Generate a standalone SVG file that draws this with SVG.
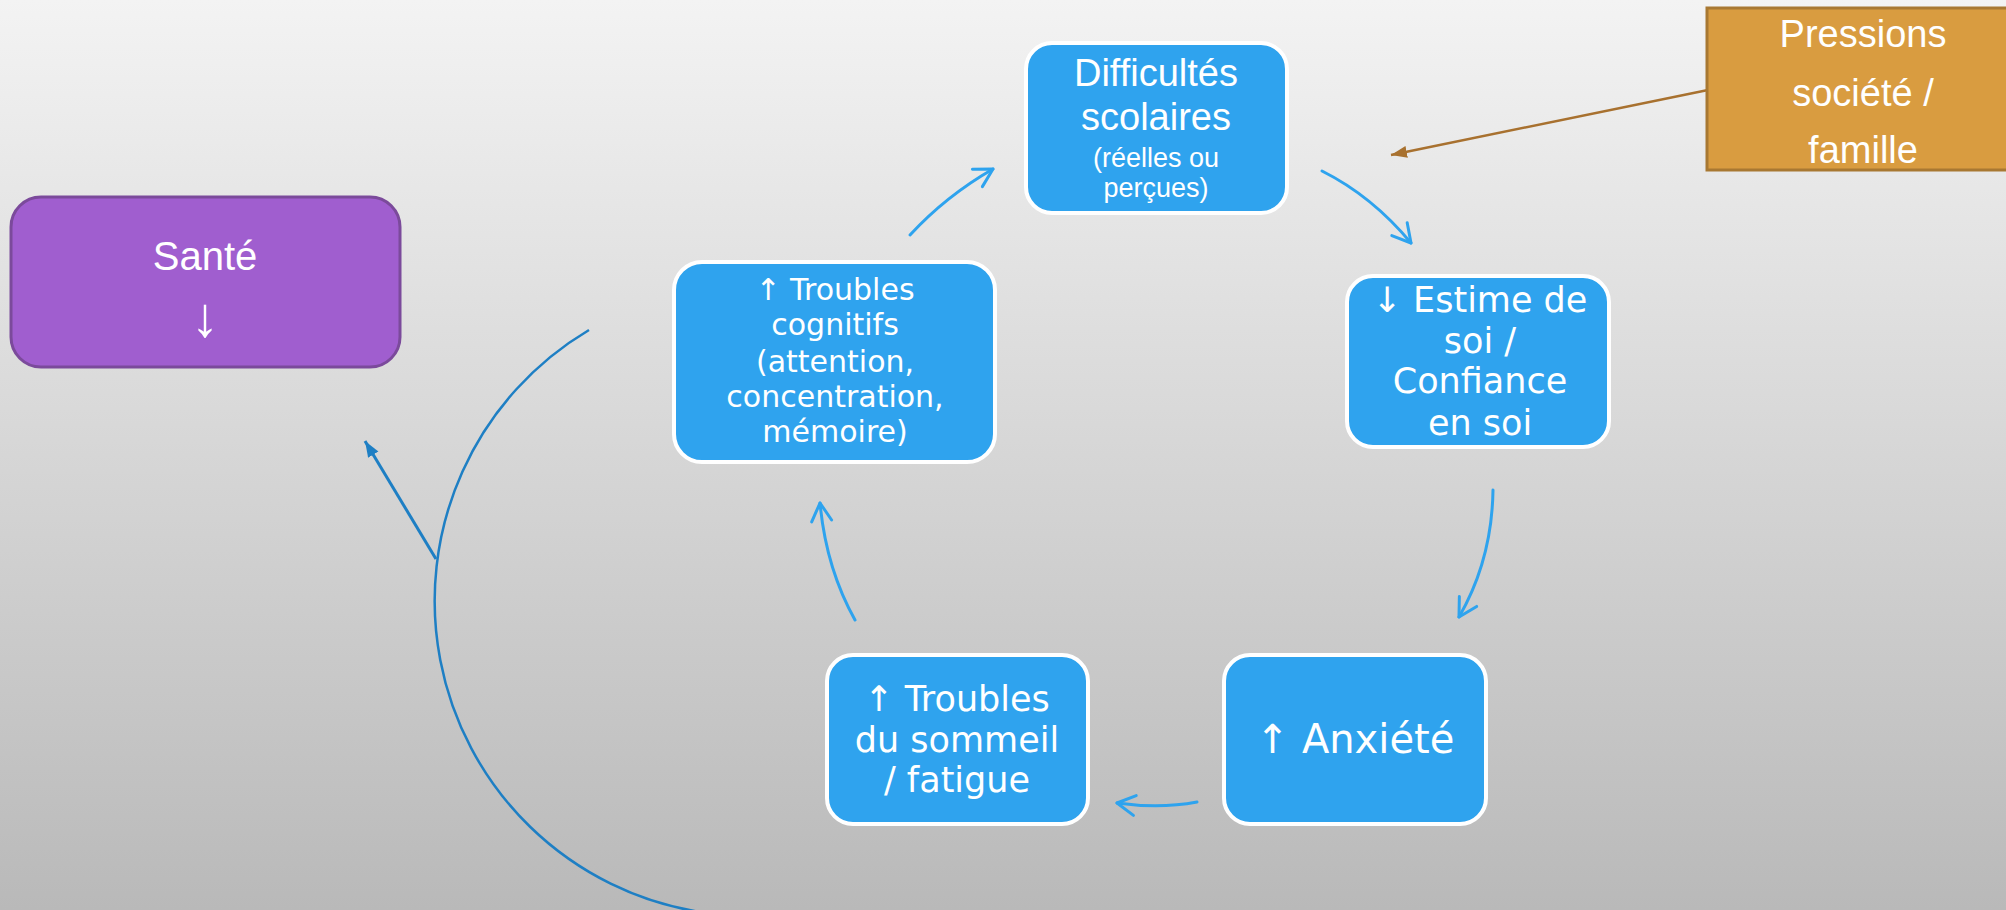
<svg xmlns="http://www.w3.org/2000/svg" width="2006" height="910" viewBox="0 0 2006 910">
<defs>
<linearGradient id="bg" x1="0" y1="0" x2="0" y2="1">
<stop offset="0" stop-color="#F3F3F3"/>
<stop offset="1" stop-color="#B9B9B9"/>
</linearGradient>
<marker id="open" markerUnits="userSpaceOnUse" markerWidth="26" markerHeight="26" viewBox="0 0 26 26" refX="21" refY="12" orient="auto">
<path d="M3,2 L21,12 L3,22" fill="none" stroke="#2EA3EE" stroke-width="3" stroke-linecap="round" stroke-linejoin="round"/>
</marker>
<marker id="brownTri" markerUnits="userSpaceOnUse" markerWidth="20" markerHeight="20" viewBox="0 0 20 20" refX="16" refY="10" orient="auto">
<path d="M0,4 L16,10 L0,16 Z" fill="#A8712F"/>
</marker>
<marker id="blueTri" markerUnits="userSpaceOnUse" markerWidth="20" markerHeight="20" viewBox="0 0 20 20" refX="16" refY="10" orient="auto">
<path d="M0,4 L16,10 L0,16 Z" fill="#1E7FC4"/>
</marker>
</defs>
<style>
.blue{fill:#2FA3EE;stroke:#FFFFFF;stroke-width:4}
.t{fill:#FFFFFF;font-family:"DejaVu Sans","Noto Sans",sans-serif;text-anchor:middle}
.g{fill:#FFFFFF;font-family:"Liberation Sans",Arial,sans-serif;text-anchor:middle}
.c{fill:none;stroke:#2EA3EE;stroke-width:3;stroke-linecap:round;marker-end:url(#open)}
</style>
<rect x="0" y="0" width="2006" height="910" fill="url(#bg)"/>

<g id="connectors">
<path class="c" d="M1322,171 Q1372,196 1411,243"/>
<path class="c" d="M1493,490 Q1492,560 1459,617"/>
<path class="c" d="M1197,802 Q1160,809 1117,803"/>
<path class="c" d="M855,620 Q826,568 820,503"/>
<path class="c" d="M910,235 Q946,196 993,169"/>
<line x1="1708" y1="90" x2="1391" y2="155" stroke="#A8712F" stroke-width="2.5" marker-end="url(#brownTri)"/>
<path d="M589,330 A315,315 0 0 0 700,912" fill="none" stroke="#1E7FC4" stroke-width="2.5"/>
<line x1="436" y1="559" x2="365" y2="441" stroke="#1E7FC4" stroke-width="3" marker-end="url(#blueTri)"/>
</g>

<g id="sante">
<rect x="11" y="197" width="389" height="170" rx="30" fill="#A05ECF" stroke="#7B4A9B" stroke-width="3"/>
<text class="g" x="205" y="270" font-size="40">Santé</text>
<text class="g" x="205" y="336" font-size="56">↓</text>
</g>

<g id="pressions">
<rect x="1707" y="8" width="310" height="162" fill="#D99C40" stroke="#A87832" stroke-width="3"/>
<text class="g" x="1863" y="47" font-size="38">Pressions</text>
<text class="g" x="1863" y="106" font-size="38">société /</text>
<text class="g" x="1863" y="163" font-size="38">famille</text>
</g>

<g id="difficultes">
<rect class="blue" x="1026" y="43" width="261" height="170" rx="26"/>
<text class="g" x="1156" y="86" font-size="38">Difficultés</text>
<text class="g" x="1156" y="130" font-size="38">scolaires</text>
<text class="g" x="1156" y="167" font-size="27">(réelles ou</text>
<text class="g" x="1156" y="197" font-size="27">perçues)</text>
</g>

<g id="estime">
<rect class="blue" x="1347" y="276" width="262" height="171" rx="26"/>
<text class="t" x="1480" y="312" font-size="35">↓ Estime de</text>
<text class="t" x="1480" y="353" font-size="35">soi /</text>
<text class="t" x="1480" y="393" font-size="35">Confiance</text>
<text class="t" x="1480" y="435" font-size="35">en soi</text>
</g>

<g id="anxiete">
<rect class="blue" x="1224" y="655" width="262" height="169" rx="26"/>
<text class="t" x="1355" y="753" font-size="40">↑ Anxiété</text>
</g>

<g id="sommeil">
<rect class="blue" x="827" y="655" width="261" height="169" rx="26"/>
<text class="t" x="957" y="711" font-size="35">↑ Troubles</text>
<text class="t" x="957" y="752" font-size="35">du sommeil</text>
<text class="t" x="957" y="792" font-size="35">/ fatigue</text>
</g>

<g id="cognitifs">
<rect class="blue" x="674" y="262" width="321" height="200" rx="28"/>
<text class="t" x="835" y="300" font-size="30">↑ Troubles</text>
<text class="t" x="835" y="335" font-size="30">cognitifs</text>
<text class="t" x="835" y="372" font-size="30">(attention,</text>
<text class="t" x="835" y="407" font-size="30">concentration,</text>
<text class="t" x="835" y="442" font-size="30">mémoire)</text>
</g>
</svg>
